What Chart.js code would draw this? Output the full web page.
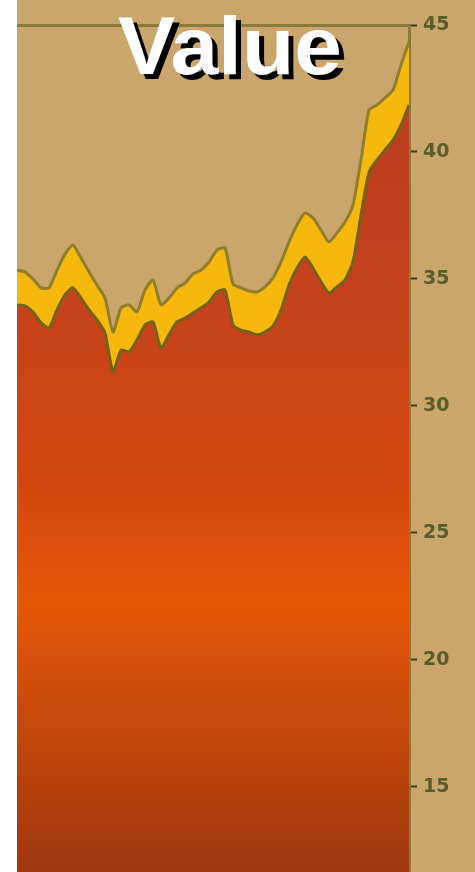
<!DOCTYPE html>
<html>
<head>
<meta charset="utf-8">
<script src="https://cdn.jsdelivr.net/npm/chart.js@4"></script>
<style>
  html, body { margin: 0; padding: 0; background: #fff; }
  .chart-box { position: absolute; left: 17px; top: 0; width: 458px; height: 872px; background: #caa66c; }
  .chart-title {
    position: absolute; left: 101px; top: -1px;
    font: bold 82px "Liberation Sans", Arial, sans-serif;
    color: #fff; text-shadow: 5px 5px 0 #000;
    transform: scaleX(1.045); transform-origin: left top;
    white-space: nowrap; pointer-events: none;
  }
</style>
</head>
<body>
<div class="chart-box">
  <canvas id="myChart" width="458" height="872"></canvas>
  <div class="chart-title">Value</div>
</div>
<script>
// lower band (orange) and upper band top (yellow)
const lowerValues = [
  33.98, 33.94, 33.70, 33.27, 33.07, 33.78, 34.37, 34.65, 34.25, 33.78,
  33.39, 32.87, 31.34, 32.20, 32.13, 32.60, 33.19, 33.31, 32.28, 32.80,
  33.31, 33.46, 33.66, 33.86, 34.09, 34.49, 34.57, 33.19, 32.99, 32.91,
  32.80, 32.91, 33.15, 33.78, 34.76, 35.43, 35.87, 35.43, 34.88, 34.45,
  34.69, 34.96, 35.67, 37.52, 39.21, 39.69, 40.08, 40.47, 41.06, 41.85
];
const upperValues = [
  35.35, 35.28, 35.00, 34.65, 34.65, 35.35, 35.98, 36.34, 35.83, 35.28,
  34.76, 34.25, 32.91, 33.86, 33.98, 33.70, 34.57, 34.96, 33.98, 34.25,
  34.65, 34.84, 35.20, 35.35, 35.67, 36.14, 36.22, 34.80, 34.65, 34.53,
  34.49, 34.69, 35.04, 35.67, 36.46, 37.13, 37.60, 37.40, 36.93, 36.46,
  36.81, 37.24, 37.91, 39.69, 41.65, 41.85, 42.13, 42.44, 43.43, 44.33
];
const categories = lowerValues.map((v, i) => String(i + 1));
const yTicks = [15, 20, 25, 30, 35, 40, 45];
const yMin = 11.65;
const yMax = 45;

function orangeGradient(context) {
  const { ctx, chartArea } = context.chart;
  if (!chartArea) return '#d04a10';
  const g = ctx.createLinearGradient(0, chartArea.top, 0, chartArea.bottom);
  g.addColorStop(0, '#b83c20');
  g.addColorStop(0.35, '#c6421a');
  g.addColorStop(0.55, '#d4480e');
  g.addColorStop(0.68, '#e65808');
  g.addColorStop(0.8, '#cc4a0a');
  g.addColorStop(1, '#a0380f');
  return g;
}

const ctx = document.getElementById('myChart').getContext('2d');
new Chart(ctx, {
  type: 'line',
  data: {
    labels: categories,
    datasets: [
      {
        label: 'Lower',
        data: lowerValues,
        borderColor: '#74621a',
        borderWidth: 3,
        backgroundColor: orangeGradient,
        fill: 'start',
        pointRadius: 0,
        tension: 0.2,
      },
      {
        label: 'Upper',
        data: upperValues,
        borderColor: '#8f7f2c',
        borderWidth: 3,
        backgroundColor: '#f6b80c',
        fill: '-1',
        pointRadius: 0,
        tension: 0.2,
      },
    ],
  },
  options: {
    responsive: false,
    animation: false,
    layout: { padding: { top: 25, left: 0, right: 0, bottom: 0 } },
    plugins: {
      legend: { display: false },
      tooltip: { enabled: false },
    },
    scales: {
      x: {
        display: false,
        offset: false,
      },
      y: {
        position: 'right',
        min: yMin,
        max: yMax,
        z: 1,
        afterBuildTicks: (scale) => {
          scale.ticks = yTicks.map((v) => ({ value: v }));
        },
        afterFit: (scale) => {
          scale.width = 66;
          scale.paddingTop = 0;
          scale.paddingBottom = 0;
        },
        border: { display: true, color: '#8b7a3c', width: 3 },
        grid: {
          color: (c) => (c.tick && c.tick.value === 45 ? '#8b7a3c' : 'transparent'),
          lineWidth: 3,
          tickColor: '#3e3a14',
          tickWidth: 2,
          tickLength: 8,
        },
        ticks: {
          padding: 6,
          color: '#5a5c2a',
          font: { family: 'DejaVu Sans', size: 19, weight: 'bold' },
        },
      },
    },
  },
});
</script>
</body>
</html>
